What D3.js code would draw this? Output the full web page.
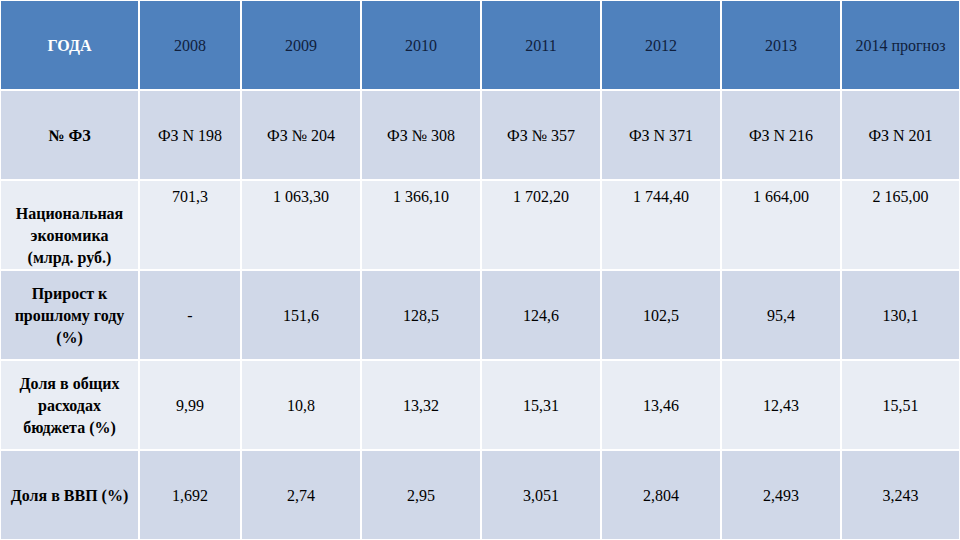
<!DOCTYPE html>
<html><head><meta charset="utf-8">
<script src="https://cdn.jsdelivr.net/npm/d3@7"></script>
<style>body{margin:0;background:#fff}</style>
</head><body>
<svg id="t" width="960" height="540"></svg>
<script>
// table contents
var years = ['2008', '2009', '2010', '2011', '2012', '2013', '2014 прогноз'];
var laws = ['ФЗ N 198', 'ФЗ № 204', 'ФЗ № 308', 'ФЗ № 357', 'ФЗ N 371', 'ФЗ N 216', 'ФЗ N 201'];
var economy = ['701,3', '1 063,30', '1 366,10', '1 702,20', '1 744,40', '1 664,00', '2 165,00'];
var growth = ['-', '151,6', '128,5', '124,6', '102,5', '95,4', '130,1'];
var budgetShare = ['9,99', '10,8', '13,32', '15,31', '13,46', '12,43', '15,51'];
var gdpShare = ['1,692', '2,74', '2,95', '3,051', '2,804', '2,493', '3,243'];
var rowLabels = [['ГОДА'], ['№ ФЗ'], ['Национальная', 'экономика', '(млрд. руб.)'],
    ['Прирост к', 'прошлому году', '(%)'], ['Доля в общих', 'расходах', 'бюджета (%)'], ['Доля в ВВП (%)']];
var rows = [years, laws, economy, growth, budgetShare, gdpShare];

var colEdges = [0, 139, 241, 361, 481, 601, 721, 841, 960];
var rowEdges = [0, 90, 180, 270, 360, 450, 540];
var fills = ['#4F81BD', '#D0D8E8', '#E9EDF4', '#D0D8E8', '#E9EDF4', '#D0D8E8'];

var svg = d3.select('#t');
rows.forEach(function (vals, r) {
    var y0 = rowEdges[r], y1 = rowEdges[r + 1];
    var cells = [rowLabels[r]].concat(vals.map(function (v) { return [v]; }));
    cells.forEach(function (lines, c) {
        var x0 = colEdges[c], x1 = colEdges[c + 1];
        svg.append('rect').attr('x', x0).attr('y', y0).attr('width', x1 - x0).attr('height', y1 - y0)
            .attr('fill', fills[r]).attr('stroke', '#fff').attr('stroke-width', 2);
        var topAlign = (r == 2 && c > 0); // economy values sit at top of cell
        var cy = topAlign ? y0 + 16 : (y0 + y1) / 2 - (lines.length - 1) * 11;
        var txt = svg.append('text').attr('x', (x0 + x1) / 2)
            .attr('text-anchor', 'middle').attr('dominant-baseline', 'central')
            .attr('font-family', '"Liberation Serif", serif').attr('font-size', 16)
            .attr('font-weight', c == 0 ? 'bold' : 'normal')
            .attr('fill', r == 0 ? (c == 0 ? '#fff' : '#0F1F3D') : '#000');
        if (r == 2 && c == 0) cy += 10;
        lines.forEach(function (l, i) {
            txt.append('tspan').attr('x', (x0 + x1) / 2).attr('y', cy + i * 22).text(l);
        });
    });
});
</script>
</body></html>
